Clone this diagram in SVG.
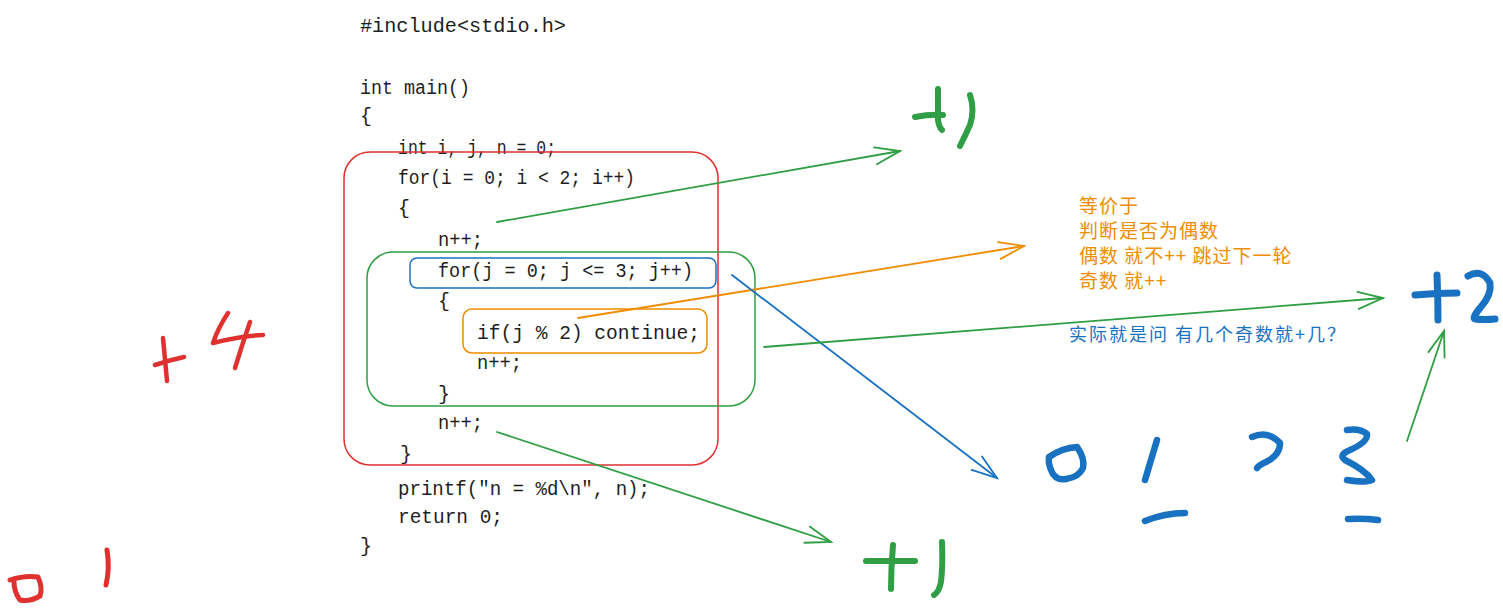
<svg xmlns="http://www.w3.org/2000/svg" width="1503" height="609" viewBox="0 0 1503 609">
<style>
.code{font-family:"Liberation Mono",monospace;font-size:20px;fill:#1e1e1e}
.box{fill:none;stroke-width:1.5}
.conn{fill:none;stroke-width:1.8;stroke-linecap:round}
.ink{fill:none;stroke-linecap:round;stroke-linejoin:round}
.cn{font-family:"Noto Sans CJK SC",sans-serif}
</style>
<defs>
<marker id="hg" markerUnits="userSpaceOnUse" markerWidth="34" markerHeight="34" viewBox="-30 -17 34 34" refX="0" refY="0" orient="auto"><path d="M-25,-8 L0,0 L-25,9" fill="none" stroke="#2f9e44" stroke-width="1.8" stroke-linecap="round"/></marker>
<marker id="ho" markerUnits="userSpaceOnUse" markerWidth="34" markerHeight="34" viewBox="-30 -17 34 34" refX="0" refY="0" orient="auto"><path d="M-25,-8 L0,0 L-25,9" fill="none" stroke="#f08c00" stroke-width="1.8" stroke-linecap="round"/></marker>
<marker id="hb" markerUnits="userSpaceOnUse" markerWidth="34" markerHeight="34" viewBox="-30 -17 34 34" refX="0" refY="0" orient="auto"><path d="M-25,-8 L0,0 L-25,9" fill="none" stroke="#1971c2" stroke-width="1.8" stroke-linecap="round"/></marker>
</defs>
<rect width="1503" height="609" fill="#ffffff"/>

<g id="code">
<text class="code" x="360" y="32" textLength="206" lengthAdjust="spacingAndGlyphs">#include&lt;stdio.h&gt;</text>
<text class="code" x="360" y="94" textLength="110" lengthAdjust="spacingAndGlyphs">int main()</text>
<text class="code" x="360" y="122">{</text>
<text class="code" x="398" y="154" textLength="158" lengthAdjust="spacingAndGlyphs">int i, j, n = 0;</text>
<text class="code" x="398" y="184" textLength="237" lengthAdjust="spacingAndGlyphs">for(i = 0; i &lt; 2; i++)</text>
<text class="code" x="398" y="214">{</text>
<text class="code" x="438" y="246" textLength="45" lengthAdjust="spacingAndGlyphs">n++;</text>
<text class="code" x="438" y="277" textLength="255" lengthAdjust="spacingAndGlyphs">for(j = 0; j &lt;= 3; j++)</text>
<text class="code" x="438" y="307">{</text>
<text class="code" x="477" y="339" textLength="223" lengthAdjust="spacingAndGlyphs">if(j % 2) continue;</text>
<text class="code" x="477" y="369" textLength="45" lengthAdjust="spacingAndGlyphs">n++;</text>
<text class="code" x="438" y="400">}</text>
<text class="code" x="438" y="429" textLength="45" lengthAdjust="spacingAndGlyphs">n++;</text>
<text class="code" x="400" y="460">}</text>
<text class="code" x="398" y="495" textLength="252" lengthAdjust="spacingAndGlyphs">printf("n = %d\n", n);</text>
<text class="code" x="398" y="523" textLength="105" lengthAdjust="spacingAndGlyphs">return 0;</text>
<text class="code" x="360" y="552">}</text>
</g>

<g id="outer-loop-box"><rect class="box" x="344" y="152" width="374" height="313" rx="26" stroke="#e03131"/></g>
<g id="inner-loop-box"><rect class="box" x="367" y="252" width="388" height="154" rx="26" stroke="#2f9e44"/></g>
<g id="for-j-box"><rect class="box" x="410" y="258" width="306" height="30" rx="7" stroke="#1971c2"/></g>
<g id="if-box"><rect class="box" x="463" y="309" width="244" height="44" rx="9" stroke="#f08c00"/></g>

<g id="connectors">
<path class="conn" d="M497,222 L900,151" stroke="#2f9e44" marker-end="url(#hg)"/>
<path class="conn" d="M578,318 L1024,246" stroke="#f08c00" marker-end="url(#ho)"/>
<path class="conn" d="M732,275 L997,478" stroke="#1971c2" marker-end="url(#hb)"/>
<path class="conn" d="M764,347 L1383,298" stroke="#2f9e44" marker-end="url(#hg)"/>
<path class="conn" d="M497,432 L831,542" stroke="#2f9e44" marker-end="url(#hg)"/>
<path class="conn" d="M1407,441 L1444,331" stroke="#2f9e44" marker-end="url(#hg)"/>
</g>

<g id="note-orange" class="cn" font-size="19" fill="#f08c00" letter-spacing="1">
<text x="1079" y="213">等价于</text>
<text x="1079" y="238">判断是否为偶数</text>
<text x="1079" y="263">偶数 就不++ 跳过下一轮</text>
<text x="1079" y="288">奇数 就++</text>
</g>
<g id="note-blue" class="cn" font-size="18" fill="#1971c2" letter-spacing="2">
<text x="1069" y="341">实际就是问 有几个奇数就+几？</text>
</g>

<g id="plus1-top" class="ink" stroke="#2f9e44" stroke-width="6">
<path d="M915,117 Q930,114 943,115"/>
<path d="M938,89 Q938,110 938,120 Q939,127 942,130"/>
<path d="M970,95 Q975,110 970,125 Q965,136 960,146"/>
</g>
<g id="plus4" class="ink" stroke="#e03131" stroke-width="4.5">
<path d="M163,338 Q165,360 167,381"/>
<path d="M155,365 Q170,360 184,357"/>
<path d="M228,313 Q218,328 213,343 Q240,336 263,335"/>
<path d="M250,322 Q242,345 235,368"/>
</g>
<g id="zero-one-red" class="ink" stroke="#e03131" stroke-width="5">
<path d="M10,580 Q25,575 38,577 Q43,588 40,596 Q30,602 20,600 Q14,592 14,582"/>
<path d="M107,550 Q110,568 106,585"/>
</g>
<g id="plus1-bottom" class="ink" stroke="#2f9e44" stroke-width="6">
<path d="M866,561 L915,561"/>
<path d="M893,545 Q891,568 891,589"/>
<path d="M942,542 Q943,565 941,582 Q939,592 934,595"/>
</g>
<g id="plus2" class="ink" stroke="#1971c2" stroke-width="7">
<path d="M1415,295 Q1436,293 1457,293"/>
<path d="M1437,275 Q1438,298 1438,320"/>
<path d="M1468,276 Q1482,268 1490,283 Q1492,295 1480,308 Q1472,318 1475,319 Q1485,320 1495,319"/>
</g>
<g id="digits-blue" class="ink" stroke="#1971c2" stroke-width="6.5">
<path d="M1049,457 Q1062,448 1077,447 Q1085,458 1083,468 Q1079,477 1066,479 Q1055,481 1051,470 Q1048,462 1049,457 Z"/>
<path d="M1157,440 Q1151,460 1145,480"/>
<path d="M1145,521 Q1165,513 1185,513"/>
<path d="M1252,437 Q1268,430 1280,443 Q1280,455 1266,462 Q1259,465 1257,468"/>
<path d="M1347,430 Q1360,428 1367,434 Q1368,442 1350,450 Q1338,455 1345,460 Q1365,470 1372,480 Q1365,483 1347,480"/>
<path d="M1348,519 Q1363,518 1378,520"/>
</g>
</svg>
